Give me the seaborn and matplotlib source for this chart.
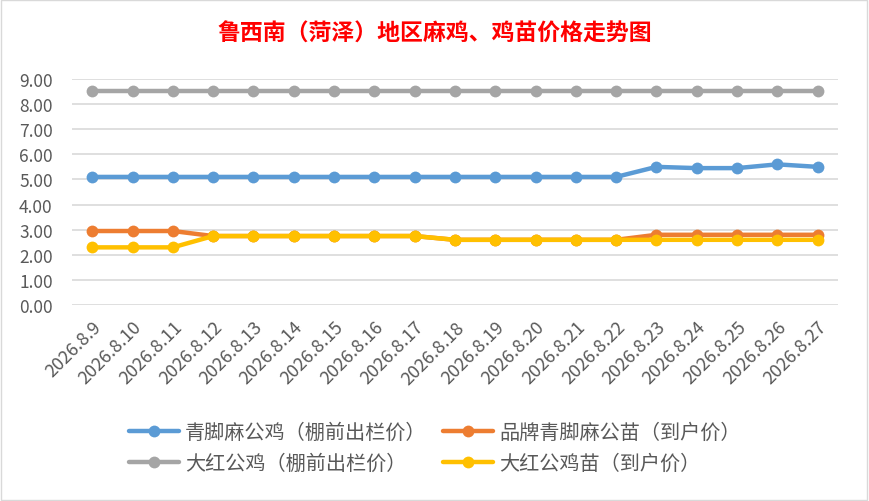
import matplotlib
matplotlib.use("Agg")
import matplotlib.pyplot as plt
from matplotlib.patches import Rectangle
import seaborn as sns
import pandas as pd

dates = ["2026.8.%d" % d for d in range(9, 28)]
series_names = ["青脚麻公鸡（棚前出栏价）", "品牌青脚麻公苗（到户价）",
                "大红公鸡（棚前出栏价）", "大红公鸡苗（到户价）"]
qingjiao_gongji = [5.1, 5.1, 5.1, 5.1, 5.1, 5.1, 5.1, 5.1, 5.1, 5.1,
                   5.1, 5.1, 5.1, 5.1, 5.5, 5.45, 5.45, 5.6, 5.5]
pinpai_miao = [2.95, 2.95, 2.95, 2.75, 2.75, 2.75, 2.75, 2.75, 2.75, 2.6,
               2.6, 2.6, 2.6, 2.6, 2.8, 2.8, 2.8, 2.8, 2.8]
dahong_gongji = [8.5] * 19
dahong_miao = [2.3, 2.3, 2.3, 2.75, 2.75, 2.75, 2.75, 2.75, 2.75, 2.6,
               2.6, 2.6, 2.6, 2.6, 2.6, 2.6, 2.6, 2.6, 2.6]
colors = ["#5B9BD5", "#ED7D31", "#A5A5A5", "#FFC000"]

rows = []
for name, vals in zip(series_names, [qingjiao_gongji, pinpai_miao, dahong_gongji, dahong_miao]):
    for i, v in enumerate(vals):
        rows.append({"idx": i, "price": v, "series": name})
df = pd.DataFrame(rows)

sns.set_style("white")
plt.rcParams["font.family"] = ["Noto Sans CJK SC", "DejaVu Sans"]

fig = plt.figure(figsize=(8.69, 5.02), dpi=100)
ax = fig.add_axes([0.083, 0.39, 0.881, 0.451])

sns.lineplot(data=df, x="idx", y="price", hue="series", hue_order=series_names,
             palette=colors, marker="o", markersize=8.5, markeredgewidth=0,
             linewidth=3.2, ax=ax)

ax.set_xlim(-0.5, len(dates) - 0.5)
ax.set_ylim(0, 9)
ax.set_yticks([i for i in range(10)])
ax.set_yticklabels(["%.2f" % i for i in range(10)])
ax.set_xticks(range(len(dates)))
ax.set_xticklabels(dates, rotation=45, ha="right", rotation_mode="anchor")
ax.tick_params(axis="both", length=0, labelsize=12.5, labelcolor="#595959")
ax.tick_params(axis="x", labelsize=13, pad=9)
ax.tick_params(axis="y", pad=14)
ax.grid(axis="y", color="#D9D9D9", linewidth=1.2)
ax.set_axisbelow(True)
for s in ax.spines.values():
    s.set_visible(False)
ax.set_xlabel("")
ax.set_ylabel("")

handles, labels = ax.get_legend_handles_labels()
ax.get_legend().remove()
order = [0, 2, 1, 3]  # row-major layout like the original
fig.legend([handles[i] for i in order], [labels[i] for i in order],
           loc="lower center", bbox_to_anchor=(0.5, 0.018), ncol=2,
           frameon=False, fontsize=14.5, handlelength=2.5, handletextpad=0.3,
           columnspacing=0.8, labelcolor="#595959", labelspacing=0.5)

fig.suptitle("鲁西南（菏泽）地区麻鸡、鸡苗价格走势图", y=0.955, fontsize=16.5,
             fontweight="bold", color="#FF0000")

fig.patches.append(Rectangle((0.001, 0.001), 0.997, 0.997, transform=fig.transFigure,
                             fill=False, edgecolor="#D9D9D9", linewidth=1))

fig.savefig("out.png", dpi=100)
